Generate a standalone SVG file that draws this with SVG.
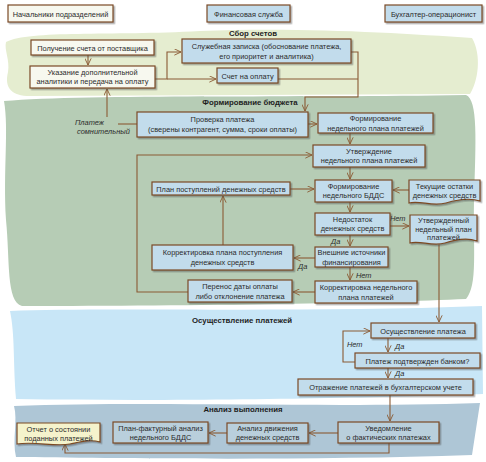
<svg xmlns="http://www.w3.org/2000/svg" width="486" height="462" viewBox="0 0 486 462">
<defs>
<marker id="arr" viewBox="0 0 10 10" refX="9.5" refY="5" markerWidth="7" markerHeight="7" markerUnits="userSpaceOnUse" orient="auto">
<path d="M0,0.5 L9.5,5 L0,9.5" fill="none" stroke="#8a5a34" stroke-width="1.3"/>
</marker>
<filter id="sh" x="-10%" y="-20%" width="130%" height="160%">
<feDropShadow dx="1.5" dy="1.5" stdDeviation="0.7" flood-color="#444" flood-opacity="0.45"/>
</filter>
</defs>
<style>
.bx{stroke:#7b4a24;stroke-width:1.2;filter:url(#sh)}
.w{fill:#f7f8ef}
.b{fill:#c2dcec}
.g{fill:#b9cfdc}
.y{fill:#f5f3cc}
text{font-family:"Liberation Sans",Arial,sans-serif;font-size:7.4px;fill:#2b2b2b;text-anchor:middle}
.t{font-weight:bold;font-size:7.8px;fill:#1e1e1e}
.lb{font-style:italic;text-anchor:start}
.c{fill:none;stroke:#8a5a34;stroke-width:1.1}
.ca{fill:none;stroke:#8a5a34;stroke-width:1.1;marker-end:url(#arr)}
</style>
<rect width="486" height="462" fill="#ffffff"/>
<!-- swimlane backgrounds -->
<path d="M6,42 C30,30 110,36 200,31 C300,27 400,33 472,38 C482,55 478,82 470,94 L30,96 C12,96 4,88 8,72 C10,60 4,50 6,42 Z" fill="#e5edd0"/>
<path d="M4,101 C90,94 300,98 466,95 C478,100 476,140 474,200 C473,250 478,285 466,299 C380,303 200,306 22,306 C6,302 10,260 6,220 C3,170 9,130 4,101 Z" fill="#b6ccb5"/>
<path d="M10,311 C100,307 300,313 482,306 L483,394 C400,397 200,402 16,399 C13,360 15,335 10,311 Z" fill="#c8e6f7"/>
<path d="M14,406 C150,401 330,408 480,403 L472,455 C300,461 100,458 16,457 C12,440 18,420 14,406 Z" fill="#aec6d6"/>
<!-- headers -->
<g id="hdr1"><rect class="bx w" x="8" y="5" width="105" height="17"/><text x="60.5" y="16.5">Начальники подразделений</text></g>
<g id="hdr2"><rect class="bx b" x="207" y="5" width="83" height="17"/><text x="248.5" y="16.5">Финансовая служба</text></g>
<g id="hdr3"><rect class="bx b" x="385" y="5" width="97" height="17"/><text x="433.5" y="16.5">Бухгалтер-операционист</text></g>
<!-- section titles -->
<text class="t" x="253" y="36">Сбор счетов</text>
<text class="t" x="250" y="105">Формирование бюджета</text>
<text class="t" x="242" y="323">Осуществление платежей</text>
<text class="t" x="243" y="412">Анализ выполнения</text>
<!-- connectors -->
<g id="connectors">
<path class="ca" d="M88,55 V65"/>
<path class="ca" d="M155,79 H167 V52 H181"/>
<path class="ca" d="M167,79 H216"/>
<path class="c" d="M278,79 H358"/>
<path class="ca" d="M351,52 H358 V97 H305 V111"/>
<path class="c" d="M137,124 H118"/>
<path class="ca" d="M107,117 V89"/>
<path class="ca" d="M308,124 H317"/>
<path class="ca" d="M350,133 V144"/>
<path class="ca" d="M188,292 H137 V155 H312"/>
<path class="ca" d="M350,167 V179"/>
<path class="ca" d="M290,189 H314"/>
<path class="ca" d="M409,190 H393"/>
<path class="ca" d="M350,202 V212"/>
<path class="ca" d="M390,226 H409"/>
<path class="ca" d="M350,235 V246"/>
<path class="ca" d="M315,258 H294"/>
<path class="ca" d="M350,267 V280"/>
<path class="ca" d="M315,292 H293"/>
<path class="ca" d="M223,245 V196"/>
<path class="ca" d="M439,243 V322"/>
<path class="ca" d="M388,338 V352"/>
<path class="ca" d="M355,362 H343 V331 H370"/>
<path class="ca" d="M388,368 V378"/>
<path class="ca" d="M390,395 V421"/>
<path class="ca" d="M338,433 H309"/>
<path class="ca" d="M227,433 H209"/>
<path class="ca" d="M389,443 V453 H65 V444"/>
<text class="lb" x="75" y="125">Платеж</text>
<text class="lb" x="77" y="134">сомнительный</text>
<text class="lb" x="390" y="221">Нет</text>
<text class="lb" x="331" y="244">Да</text>
<text class="lb" x="298" y="269">Да</text>
<text class="lb" x="356" y="278">Нет</text>
<text class="lb" x="395" y="349">Да</text>
<text class="lb" x="347" y="347">Нет</text>
<text class="lb" x="395" y="376">Да</text>
</g>
<!-- section 1 nodes -->
<g id="n_poluchenie"><rect class="bx w" x="31" y="40" width="123" height="15"/><text x="92.5" y="50.5">Получение счета от поставщика</text></g>
<g id="n_ukazanie"><rect class="bx w" x="30" y="66" width="125" height="22"/><text x="92.5" y="74.5">Указание дополнительной</text><text x="92.5" y="84">аналитики и передача на оплату</text></g>
<g id="n_zapiska"><rect class="bx b" x="182" y="39" width="169" height="24"/><text x="266.5" y="48.5">Служебная записка (обоснование платежа,</text><text x="266.5" y="58.5">его приоритет и аналитика)</text></g>
<g id="n_schet"><rect class="bx b" x="217" y="68" width="61" height="15"/><text x="247.5" y="78.5">Счет на оплату</text></g>
<!-- section 2 nodes -->
<g id="n_proverka"><rect class="bx b" x="137" y="112" width="171" height="25"/><text x="222.5" y="121.5">Проверка платежа</text><text x="222.5" y="131.5">(сверены контрагент, сумма, сроки оплаты)</text></g>
<g id="n_form_plan"><rect class="bx b" x="318" y="113" width="115" height="20"/><text x="375.5" y="121">Формирование</text><text x="375.5" y="130.5">недельного плана платежей</text></g>
<g id="n_utv"><rect class="bx b" x="313" y="145" width="112" height="22"/><text x="369" y="153.5">Утверждение</text><text x="369" y="163">недельного плана платежей</text></g>
<g id="n_plan_post"><rect class="bx b" x="152" y="182" width="138" height="13"/><text x="221" y="191.5">План поступлений денежных средств</text></g>
<g id="n_bdds"><rect class="bx b" x="315" y="180" width="77" height="22"/><text x="353.5" y="188.5">Формирование</text><text x="353.5" y="198">недельного БДДС</text></g>
<g id="n_ostatki"><path class="bx b" d="M409,180 H480 V201 C468,197 456,200 446,203 C432,207 420,200 409,203 Z"/><text x="444.5" y="188.5">Текущие остатки</text><text x="444.5" y="197.5">денежных средств</text></g>
<g id="n_nedostatok"><rect class="bx b" x="315" y="213" width="75" height="22"/><text x="352.5" y="221.5">Недостаток</text><text x="352.5" y="231">денежных средств</text></g>
<g id="n_utv_plan"><path class="bx b" d="M410,215 H477 V241 C466,237 455,240 445,243 C432,247 420,240 410,243 Z"/><text x="443.5" y="223">Утвержденный</text><text x="443.5" y="231.5">недельный план</text><text x="443.5" y="240">платежей</text></g>
<g id="n_vneshnie"><rect class="bx b" x="315" y="247" width="73" height="20"/><text x="351.5" y="255">Внешние источники</text><text x="351.5" y="264.5">финансирования</text></g>
<g id="n_korr_post"><rect class="bx b" x="152" y="245" width="141" height="25"/><text x="222.5" y="255">Корректировка плана поступления</text><text x="222.5" y="265">денежных средств</text></g>
<g id="n_perenos"><rect class="bx b" x="188" y="280" width="104" height="22"/><text x="240" y="288.5">Перенос даты оплаты</text><text x="240" y="298.5">либо отклонение платежа</text></g>
<g id="n_korr_ned"><rect class="bx b" x="315" y="281" width="102" height="22"/><text x="366" y="289.5">Корректировка недельного</text><text x="366" y="299.5">плана платежей</text></g>
<!-- section 3 nodes -->
<g id="n_osush"><rect class="bx b" x="371" y="323" width="104" height="15"/><text x="423" y="333.5">Осуществление платежа</text></g>
<g id="n_podtv"><rect class="bx b" x="355" y="353" width="125" height="15"/><text x="417.5" y="363.5">Платеж подтвержден банком?</text></g>
<g id="n_otrazh"><rect class="bx b" x="298" y="379" width="175" height="16"/><text x="385.5" y="390">Отражение платежей в бухгалтерском учете</text></g>
<!-- section 4 nodes -->
<g id="n_uved"><rect class="bx g" x="338" y="422" width="101" height="21"/><text x="388.5" y="430.5">Уведомление</text><text x="388.5" y="440">о фактических платежах</text></g>
<g id="n_analiz"><rect class="bx g" x="227" y="423" width="81" height="20"/><text x="267.5" y="431">Анализ движения</text><text x="267.5" y="440">денежных средств</text></g>
<g id="n_planfakt"><rect class="bx g" x="113" y="422" width="95" height="21"/><text x="160.5" y="430.5">План-фактурный анализ</text><text x="160.5" y="440">недельного БДДС</text></g>
<g id="n_otchet"><path class="bx y" d="M17,423 H100 V442 C90,439 80,442 70,444 C55,447 35,441 17,444 Z"/><text x="58.5" y="431.5">Отчет о состоянии</text><text x="58.5" y="440.5">поданных платежей</text></g>
</svg>
